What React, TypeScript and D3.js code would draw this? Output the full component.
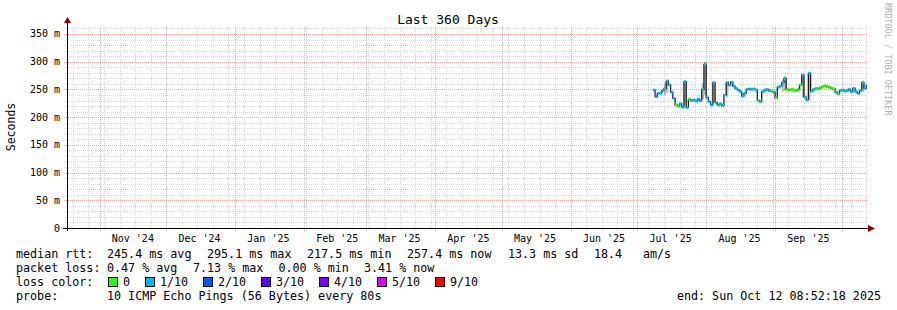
import React from 'react';
import * as d3 from 'd3';

const W = 897;
const H = 310;
const END = Date.UTC(2025, 9, 12, 8, 52, 18);
const START = END - 360 * 86400000;
const DATA_START = Date.UTC(2025, 6, 8);

// daily median RTT in ms, from 2025-07-08
const medianMs = [
  249, 237, 243, 243, 248, 252, 265, 258, 245, 234,
  222, 220, 224, 218, 264, 217.5, 232, 230, 231, 229,
  232, 230, 250, 295.1, 235, 228, 222, 262, 226, 222,
  224, 221, 240, 262, 258, 263, 256, 252, 249, 246,
  238, 243, 250, 251, 250, 251, 249, 230, 228, 246,
  249, 250, 248, 247, 245, 235, 254, 256, 262, 270,
  250, 249, 250, 249, 248, 250, 258, 276, 236, 231,
  279, 247, 250, 252, 251, 253, 255, 257, 255, 254,
  252, 251, 245, 242, 248, 249, 247, 248, 250, 246,
  252, 246, 243, 248, 262, 252, 257.4,
];

// loss bucket per day (0 = no loss, 1 = 1/10 ...)
const lossLevel = [
  1, 1, 1, 1, 1, 1, 1, 1, 1, 1,
  0, 0, 1, 1, 1, 1, 0, 1, 1, 1,
  1, 1, 1, 1, 1, 1, 1, 1, 1, 1,
  1, 1, 1, 1, 1, 1, 1, 1, 1, 1,
  1, 1, 1, 1, 1, 1, 1, 0, 1, 1,
  1, 1, 1, 0, 1, 0, 1, 1, 1, 1,
  0, 0, 0, 0, 0, 0, 0, 1, 1, 1,
  1, 1, 1, 0, 0, 0, 0, 0, 0, 0,
  0, 0, 1, 0, 1, 1, 1, 1, 1, 1,
  1, 1, 1, 1, 1, 1, 1,
];

// extra smoke (ping spread) on a few days: [day index, low ms, high ms]
const smoke = [
  [5, 240, 262], [6, 244, 268], [14, 222, 266], [22, 232, 262], [23, 240, 300],
  [27, 226, 264], [33, 236, 265], [58, 246, 268], [59, 248, 274], [67, 236, 278],
  [70, 231, 282], [94, 246, 266],
];

const lossColors = ['#26ff00', '#00b8ff', '#0059ff', '#5e00ff', '#7e00ff', '#dd00ff', '#dd00ff', '#dd00ff', '#dd00ff', '#ff0000', '#ff0000'];
const legendLabels = ['0', '1/10', '2/10', '3/10', '4/10', '5/10', '9/10'];
const legendColors = ['#26ff00', '#00b8ff', '#0059ff', '#5e00ff', '#7e00ff', '#dd00ff', '#ff0000'];

const yTicks = [0, 50, 100, 150, 200, 250, 300, 350];
const title = 'Last 360 Days';
const rttLabel = 'median rtt:';
const rttParts = ['245.4 ms avg', '295.1 ms max', '217.5 ms min', '257.4 ms now', '13.3 ms sd', '18.4', 'am/s'];
const lossLabel = 'packet loss:';
const lossParts = ['0.47 % avg', '7.13 % max', '0.00 % min', '3.41 % now'];
const colorLabel = 'loss color:';
const probeLabel = 'probe:';
const probeText = '10 ICMP Echo Pings (56 Bytes) every 80s';
const endText = 'end: Sun Oct 12 08:52:18 2025';

const L = 67, R = 867, T = 28, B = 228;
const FONT = "'DejaVu Sans Mono', monospace";
const DAY = 86400000;
const rttX = [107, 207, 307, 407, 508, 594, 643];
const lossX = [107, 193, 278.5, 364];

export default function App() {
  const x = d3.scaleUtc().domain([START, END]).range([L, R]);
  const y = d3.scaleLinear().domain([0, 360.8]).range([B, T]);
  const px = (v: number) => Math.round(v) + 0.5;

  const weeks = d3.utcSunday.range(new Date(START), new Date(END));
  const months = d3.utcMonth.range(new Date(START), new Date(END));
  const labelMonths = months.filter((d) => +d + 15 * DAY < END);
  const minorY = d3.range(10, 361, 10).filter((v) => v % 50 !== 0);
  const majorY = yTicks.filter((v) => v > 0);

  const pts = medianMs.map((v, i) => ({ t: DATA_START + i * DAY, v, loss: lossLevel[i] }));
  const stepPts = [...pts, { t: END, v: pts[pts.length - 1].v, loss: 0 }];
  const line = d3
    .line<{ t: number; v: number }>()
    .x((d) => x(d.t))
    .y((d) => y(d.v))
    .curve(d3.curveStepAfter);

  const monthFmt = d3.utcFormat("%b '%y");

  let cur = 108;
  const legendItems = legendLabels.map((lab, i) => {
    const bx = cur;
    const tx = bx + 15;
    cur = tx + lab.length * 7 + 15;
    return { lab, color: legendColors[i], bx, tx };
  });

  return (
    <svg width={W} height={H} style={{ position: 'absolute', left: 0, top: 0, background: '#fff' }} fontFamily={FONT}>
      <rect x={0} y={0} width={W} height={H} fill="#fff" />
      {/* minor grid */}
      <g stroke="#d8d8d8" strokeWidth={1} strokeDasharray="1,1" shapeRendering="crispEdges">
        {minorY.map((v) => (
          <line key={'my' + v} x1={L - 2} x2={R} y1={px(y(v))} y2={px(y(v))} />
        ))}
        {weeks.map((d) => (
          <line key={'wx' + +d} x1={px(x(d))} x2={px(x(d))} y1={T - 1} y2={B + 3} />
        ))}
      </g>
      {/* major grid */}
      <g stroke="#f3a8a8" strokeWidth={1} strokeDasharray="1,1" shapeRendering="crispEdges">
        {majorY.map((v) => (
          <line key={'My' + v} x1={L - 3} x2={R} y1={px(y(v))} y2={px(y(v))} />
        ))}
        {months.map((d) => (
          <line key={'Mx' + +d} x1={px(x(d))} x2={px(x(d))} y1={T - 1} y2={B + 4} />
        ))}
      </g>
      {/* smoke */}
      {smoke.map(([i, lo, hi]) => {
        const t = DATA_START + i * DAY;
        const x0 = x(t);
        const x1 = x(Math.min(t + DAY, END));
        return <rect key={'s' + i} x={x0} width={x1 - x0} y={y(hi)} height={y(lo) - y(hi)} fill="#909090" opacity={0.6} />;
      })}
      {/* median line */}
      <path d={line(stepPts) || ''} fill="none" stroke="#202020" strokeWidth={1.3} />
      {/* loss coloured median */}
      {pts.map((p, i) => {
        const x0 = x(p.t);
        const x1 = x(Math.min(p.t + DAY, END));
        return (
          <rect key={'m' + i} x={x0} width={x1 - x0} y={y(p.v) - 1.4} height={2.8} fill={lossColors[p.loss]} />
        );
      })}
      {/* axes */}
      <g stroke="#000" strokeWidth={1} shapeRendering="crispEdges">
        <line x1={L - 4} x2={R + 2} y1={px(B)} y2={px(B)} />
        <line x1={px(L)} x2={px(L)} y1={T - 6} y2={B + 3} />
      </g>
      <path d={`M${R + 1},${B - 3} L${R + 8},${B + 0.5} L${R + 1},${B + 4} Z`} fill="#8b0000" />
      <path d={`M${L - 3},${T - 5} L${L + 0.5},${T - 11} L${L + 4},${T - 5} Z`} fill="#8b0000" />
      {/* y tick labels */}
      <g fontSize={10} fill="#000" textAnchor="end">
        {yTicks.map((v) => (
          <text key={'yt' + v} x={60} y={y(v) + 3.5}>
            {v === 0 ? '0' : `${v} m`}
          </text>
        ))}
      </g>
      {/* x tick labels */}
      <g fontSize={10} fill="#000" textAnchor="middle">
        {labelMonths.map((d) => (
          <text key={'xt' + +d} x={x(+d + 15 * DAY)} y={241.5}>
            {monthFmt(d)}
          </text>
        ))}
      </g>
      {/* title */}
      <text x={448} y={24} fontSize={13} textAnchor="middle" fill="#000">{title}</text>
      {/* y axis label */}
      <text transform="translate(15,127) rotate(-90)" fontSize={11.5} textAnchor="middle" fill="#000">Seconds</text>
      {/* watermark */}
      <text transform="translate(885,3) rotate(90)" fontSize={8.5} fill="#b0b0b0">RRDTOOL / TOBI OETIKER</text>
      {/* legend */}
      <g fontSize={11.7} fill="#000">
        <text x={16} y={258}>{rttLabel}</text>
        {rttParts.map((s, i) => (
          <text key={'r' + i} x={rttX[i]} y={258}>{s}</text>
        ))}
        <text x={16} y={272}>{lossLabel}</text>
        {lossParts.map((s, i) => (
          <text key={'l' + i} x={lossX[i]} y={272}>{s}</text>
        ))}
        <text x={16} y={286}>{colorLabel}</text>
        {legendItems.map((it) => (
          <g key={it.lab}>
            <rect x={it.bx + 0.5} y={277.5} width={9} height={9} fill={it.color} stroke="#000" strokeWidth={1} shapeRendering="crispEdges" />
            <text x={it.tx} y={286}>{it.lab}</text>
          </g>
        ))}
        <text x={16} y={300}>{probeLabel}</text>
        <text x={107} y={300}>{probeText}</text>
        <text x={881} y={300} textAnchor="end">{endText}</text>
      </g>
    </svg>
  );
}
